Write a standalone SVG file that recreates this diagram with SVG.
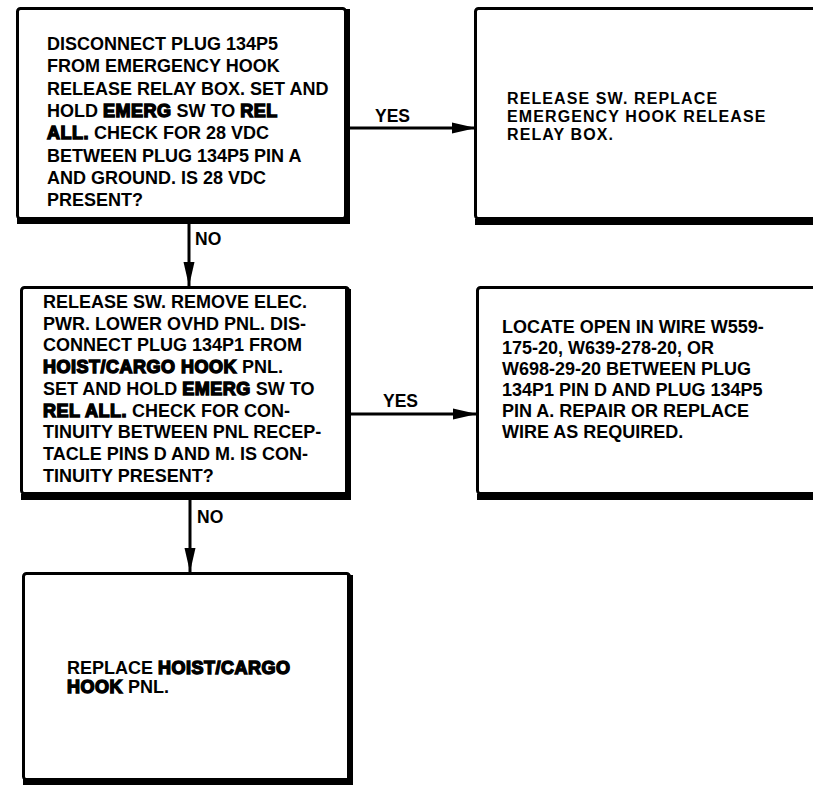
<svg xmlns="http://www.w3.org/2000/svg" width="813" height="786" viewBox="0 0 813 786">
  <style>
    .bg { fill: #ffffff; }
    .frame { fill: none; stroke: #000; stroke-width: 3; }
    .shadow { fill: none; stroke: #000; stroke-width: 6; stroke-linejoin: miter; }
    .conn { fill: none; stroke: #000; stroke-width: 3; }
    text { font-family: "Liberation Sans", Arial, sans-serif; font-weight: bold; font-size: 18px; fill: #000; }
    .lbl { font-size: 17.5px; }
    .sm { font-size: 16px; letter-spacing: 1.1px; }
    .hv { stroke: #000; stroke-width: 1.4; letter-spacing: 0.5px; }
  </style>
  <defs>
    <marker id="arrow" markerUnits="userSpaceOnUse" markerWidth="24" markerHeight="12" refX="24" refY="6" orient="auto">
      <path d="M0,0.5 L24,6 L0,11.5 z" fill="#000"/>
    </marker>
  </defs>
  <rect class="bg" x="0" y="0" width="813" height="786"/>

  <g id="node-check-28vdc">
    <rect class="frame" x="17.5" y="8.5" width="328" height="210" rx="3"/>
    <path class="shadow" d="M347,9 V221 H17"/>
    <text x="47" y="50">DISCONNECT PLUG 134P5</text>
    <text x="47" y="72.3">FROM EMERGENCY HOOK</text>
    <text x="47" y="94.6">RELEASE RELAY BOX. SET AND</text>
    <text x="47" y="116.9">HOLD <tspan class="hv">EMERG</tspan> SW TO <tspan class="hv">REL</tspan></text>
    <text x="47" y="139.2"><tspan class="hv">ALL.</tspan> CHECK FOR 28 VDC</text>
    <text x="47" y="161.5">BETWEEN PLUG 134P5 PIN A</text>
    <text x="47" y="183.8">AND GROUND. IS 28 VDC</text>
    <text x="47" y="206.1">PRESENT?</text>
  </g>

  <g id="node-replace-relay-box">
    <rect class="frame" x="475.5" y="8.5" width="400" height="210" rx="3"/>
    <path class="shadow" d="M475,222 H820"/>
    <text class="sm" x="507" y="104">RELEASE SW. REPLACE</text>
    <text class="sm" x="507" y="122">EMERGENCY HOOK RELEASE</text>
    <text class="sm" x="507" y="140">RELAY BOX.</text>
  </g>

  <g id="node-check-continuity">
    <rect class="frame" x="21.5" y="287.5" width="327" height="206" rx="3"/>
    <path class="shadow" d="M348,289 V497 H21"/>
    <text x="43" y="308">RELEASE SW. REMOVE ELEC.</text>
    <text x="43" y="329.7">PWR. LOWER OVHD PNL. DIS-</text>
    <text x="43" y="351.4">CONNECT PLUG 134P1 FROM</text>
    <text x="43" y="373.1"><tspan class="hv">HOIST/CARGO HOOK</tspan> PNL.</text>
    <text x="43" y="394.8">SET AND HOLD <tspan class="hv">EMERG</tspan> SW TO</text>
    <text x="43" y="416.5"><tspan class="hv">REL ALL.</tspan> CHECK FOR CON-</text>
    <text x="43" y="438.2">TINUITY BETWEEN PNL RECEP-</text>
    <text x="43" y="459.9">TACLE PINS D AND M. IS CON-</text>
    <text x="43" y="481.6">TINUITY PRESENT?</text>
  </g>

  <g id="node-locate-open-wire">
    <rect class="frame" x="477.5" y="287.5" width="400" height="206" rx="3"/>
    <path class="shadow" d="M477,497 H820"/>
    <text x="502" y="333">LOCATE OPEN IN WIRE W559-</text>
    <text x="502" y="354">175-20, W639-278-20, OR</text>
    <text x="502" y="375">W698-29-20 BETWEEN PLUG</text>
    <text x="502" y="396">134P1 PIN D AND PLUG 134P5</text>
    <text x="502" y="417">PIN A. REPAIR OR REPLACE</text>
    <text x="502" y="438">WIRE AS REQUIRED.</text>
  </g>

  <g id="node-replace-panel">
    <rect class="frame" x="23.5" y="573.5" width="326" height="206" rx="3"/>
    <path class="shadow" d="M350,575 V782 H23"/>
    <text x="67" y="674">REPLACE <tspan class="hv">HOIST/CARGO</tspan></text>
    <text x="67" y="693.3"><tspan class="hv">HOOK</tspan> PNL.</text>
  </g>

  <g id="connectors">
    <line class="conn" x1="350" y1="128" x2="476" y2="128" marker-end="url(#arrow)"/>
    <text class="lbl" x="375" y="121.5">YES</text>
    <line class="conn" x1="189" y1="224" x2="189" y2="286" marker-end="url(#arrow)"/>
    <text class="lbl" x="195" y="245">NO</text>
    <line class="conn" x1="351" y1="414" x2="477" y2="414" marker-end="url(#arrow)"/>
    <text class="lbl" x="383" y="406.5">YES</text>
    <line class="conn" x1="190" y1="500" x2="190" y2="572" marker-end="url(#arrow)"/>
    <text class="lbl" x="197" y="523">NO</text>
  </g>
</svg>
